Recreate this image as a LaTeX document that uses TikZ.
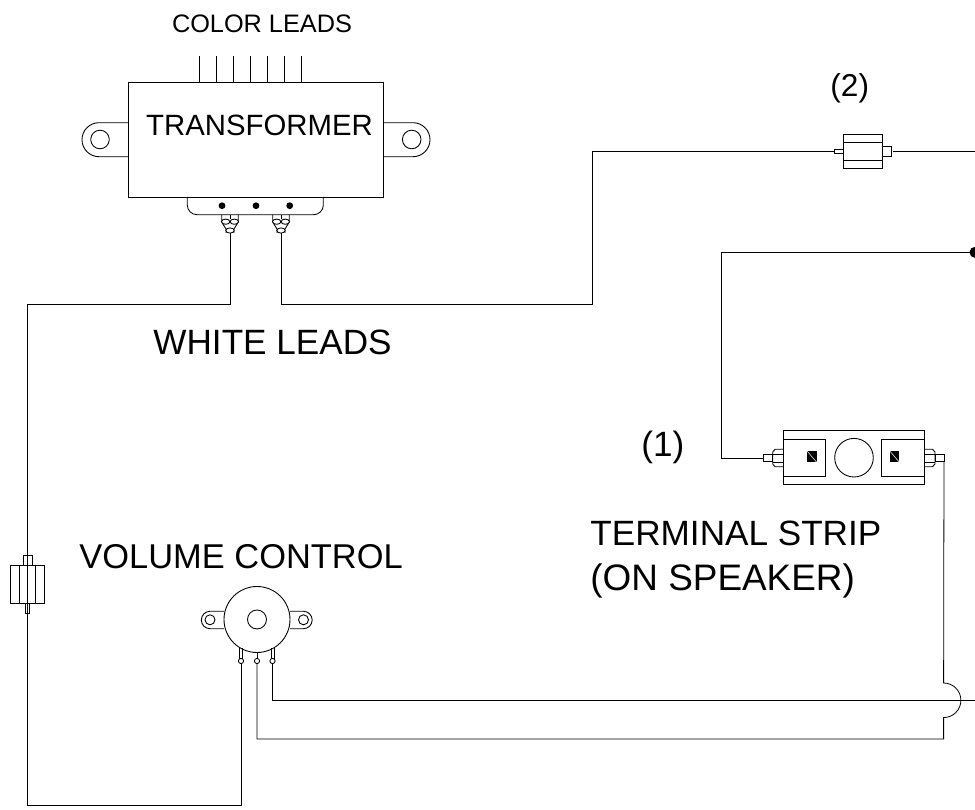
\documentclass[tikz,border=0pt]{standalone}
\usepackage{fontspec}
\setmainfont{Liberation Sans}
\usetikzlibrary{calc}

\begin{document}
\begin{tikzpicture}[x=0.02cm,y=-0.02cm,line width=0.5pt,
    wire/.style={line width=0.45pt},
    part/.style={draw,fill=white},
    smalllabel/.style={font=\fontsize{14.4}{16}\selectfont,inner sep=0pt},
    midlabel/.style={font=\fontsize{16.7}{18}\selectfont,inner sep=0pt},
    biglabel/.style={font=\fontsize{20}{22}\selectfont,inner sep=0pt,anchor=west}]
    \useasboundingbox (0,0) rectangle (975,810);
    % end points of the wires
    \coordinate (whiteA) at (230,233);
    \coordinate (whiteB) at (281,233);
    \coordinate (fuseTopIn) at (834.3,151);
    \coordinate (fuseTopOut) at (893,151);
    \coordinate (edgeTop) at (975,151);
    \coordinate (edgeDot) at (975,252.3);
    \coordinate (stripIn) at (763.3,458);
    \coordinate (stripOut) at (944,458);
    \coordinate (potA) at (241,663);
    \coordinate (potB) at (257,663);
    \coordinate (potC) at (272.5,663);
    \coordinate (edgeMid) at (975,700);
    % wires
    \draw[wire] (whiteA) |- (27.3,304) -- (27.3,805) -| (potA);
    \draw[wire] (whiteB) |- (592,304) |- (fuseTopIn);
    \draw[wire] (fuseTopOut) -- (edgeTop);
    \draw[wire] (edgeDot) -| (721,458) -- (stripIn);
    \draw[wire] (stripOut) -- (943.6,683) arc[start angle=-90,end angle=90,radius=17.3] -- (943.6,739) -| (potB);
    \draw[wire] (potC) |- (edgeMid);
    \fill (edgeDot) circle (5.5);
    % transformer
    \foreach \x in {199.7,216.7,233.7,250.3,267.3,284.3,301.7}
        \draw (\x,56) -- (\x,82);
    \draw (128,122.7) -- (99,122.7) arc[start angle=-90,end angle=-270,radius=17] -- (128,156.7);
    \draw (383,122.7) -- (413,122.7) arc[start angle=-90,end angle=90,radius=17] -- (383,156.7);
    \draw (100,139.5) circle (9.3);
    \draw (411.7,139.5) circle (9.3);
    \draw[rounded corners=5.5pt] (187.3,197) -- (187.3,214.7) -- (323.3,214.7) -- (323.3,197);
    \draw (128,82) rectangle (383,197);
    \foreach \x in {222,256,289.7}
        \fill (\x,205.7) circle (3.4);
    \foreach \x in {230,281} {
        \draw (\x-8.3,214.7) -- (\x-8.3,222) -- (\x-4,229) -- (\x-4,233);
        \draw (\x+8.3,214.7) -- (\x+8.3,222) -- (\x+4,229) -- (\x+4,233);
        \draw (\x,214.7) -- (\x,219);
        \draw[part] (\x-4.3,221.7) ellipse (4.2 and 2.6);
        \draw[part] (\x+4.3,221.7) ellipse (4.2 and 2.6);
        \draw[part] (\x,230.5) ellipse (4.2 and 2.6);
    }
    % fuse (2)
    \draw (834.3,149.3) rectangle (843.3,153.7);
    \draw (882,146.7) rectangle (891.3,156);
    \draw (843.3,134.3) rectangle (882,168.3);
    \draw (843.3,142.7) -- (882,142.7);
    \draw (843.3,160) -- (882,160);
    % left fuse
    \draw (23.3,555.7) rectangle (32,565.7);
    \draw (25.3,603.3) rectangle (29.3,613.3);
    \draw (10.3,565.7) rectangle (44.7,603.3);
    \draw (19.3,565.7) -- (19.3,603.3);
    \draw (35.7,565.7) -- (35.7,603.3);
    % terminal strip
    \draw (783.3,430.7) rectangle (924,484.3);
    \draw (783.3,439.3) rectangle (825,476.7);
    \draw (881.7,439.3) rectangle (924,476.7);
    \draw (854,457.7) circle (19.3);
    \foreach \x in {807.3,890} {
        \fill (\x,451.3) rectangle (\x+9.4,462.3);
        \draw[white,line width=0.3pt] (\x,451.3) -- (\x+9.4,462.3);
    }
    \draw[part] (763.3,454.3) rectangle (772.7,461.7);
    \draw (783.3,449.3) -- (775,449.3) -- (772.7,452) -- (772.7,464) -- (775,466.7) -- (783.3,466.7);
    \draw (772.7,454) -- (783.3,454);
    \draw (772.7,462) -- (783.3,462);
    \draw[part] (935,454.3) rectangle (944,461.7);
    \draw (924,449.3) -- (932.5,449.3) -- (935,452) -- (935,464) -- (932.5,466.7) -- (924,466.7);
    \draw (924,454) -- (935,454);
    \draw (924,462) -- (935,462);
    % volume control
    \draw (224,611.3) -- (210,611.3) arc[start angle=-90,end angle=-270,radius=8.7] -- (224,628.7);
    \draw (290,611.3) -- (303.5,611.3) arc[start angle=-90,end angle=90,radius=8.7] -- (290,628.7);
    \draw (210,619.8) circle (5);
    \draw (303.5,619.8) circle (5);
    \draw[part] (257,619.5) circle (33);
    \draw (257,619.5) circle (9.5);
    \draw (239.6,648) -- (239.6,659);
    \draw (242.6,648) -- (242.6,659);
    \draw (257,652) -- (257,659);
    \draw (271,648) -- (271,659);
    \draw (274,648) -- (274,659);
    \foreach \x in {241,257,272.5}
        \draw[part] (\x,661) circle (2.6);
    % labels
    \node[smalllabel] (colorleads) at (262,24) {COLOR LEADS};
    \node[midlabel] (transformer) at (259.5,125.5) {TRANSFORMER};
    \node[biglabel,font=\fontsize{18}{20}\selectfont] (fusetwo) at (830,88) {(2)};
    \node[biglabel] (whiteleads) at (153,342) {WHITE LEADS};
    \node[biglabel] (fuseone) at (641,447) {(1)};
    \node[biglabel] (terminal) at (590,533) {TERMINAL STRIP};
    \node[biglabel,font=\fontsize{21}{23}\selectfont] (speaker) at (590,581) {(ON SPEAKER)};
    \node[biglabel,font=\fontsize{19.6}{22}\selectfont] (volume) at (79,557) {VOLUME CONTROL};
\end{tikzpicture}
\end{document}
